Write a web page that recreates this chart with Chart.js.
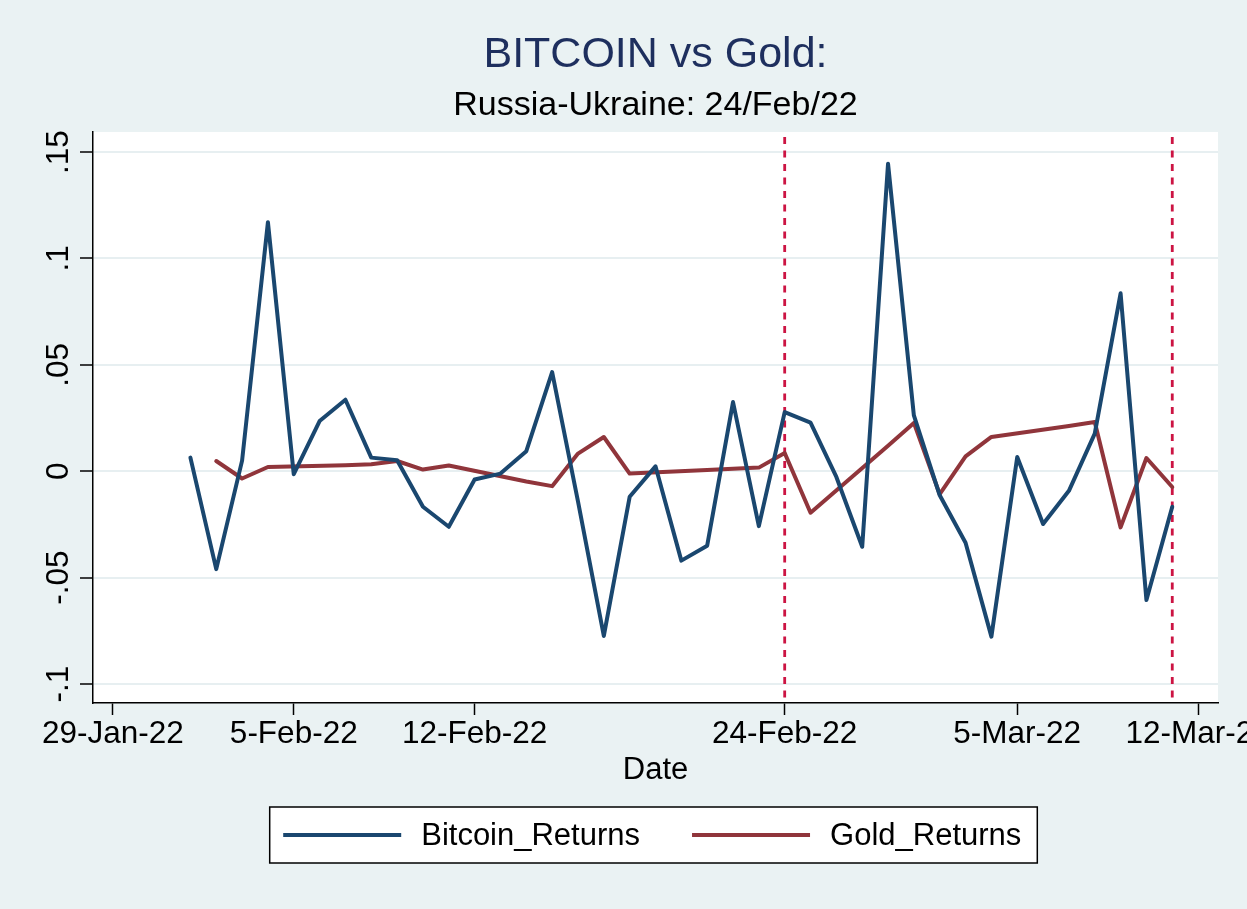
<!DOCTYPE html>
<html>
<head>
<meta charset="utf-8">
<title>BITCOIN vs Gold</title>
<script src="https://cdn.jsdelivr.net/npm/chart.js@4.4.1/dist/chart.umd.min.js"></script>
<style>
  html, body { margin: 0; padding: 0; background: #eaf2f3; }
  #wrap { width: 1247px; height: 909px; overflow: hidden; }
</style>
</head>
<body>
<div id="wrap"><canvas id="chart" width="1247" height="909"></canvas></div>
<script>
(function() {

    // daily observations, 1-Feb-22 .. 11-Mar-22
    let dates = [
        '2022-02-01', '2022-02-02', '2022-02-03', '2022-02-04', '2022-02-05', '2022-02-06', '2022-02-07',
        '2022-02-08', '2022-02-09', '2022-02-10', '2022-02-11', '2022-02-12', '2022-02-13', '2022-02-14',
        '2022-02-15', '2022-02-16', '2022-02-17', '2022-02-18', '2022-02-19', '2022-02-20', '2022-02-21',
        '2022-02-22', '2022-02-23', '2022-02-24', '2022-02-25', '2022-02-26', '2022-02-27', '2022-02-28',
        '2022-03-01', '2022-03-02', '2022-03-03', '2022-03-04', '2022-03-05', '2022-03-06', '2022-03-07',
        '2022-03-08', '2022-03-09', '2022-03-10', '2022-03-11'
    ];

    let bitcoinReturns = [
        0.0064, -0.046, 0.005, 0.117, -0.0014, 0.0236, 0.0336,
        0.0064, 0.0052, -0.0167, -0.0261, -0.0039, -0.0011, 0.0094,
        0.0466, -0.0142, -0.0774, -0.012, 0.0023, -0.042, -0.035,
        0.0325, -0.0258, 0.0278, 0.0228, -0.0027, -0.0355, 0.1445,
        0.0262, -0.0113, -0.0336, -0.0777, 0.0067, -0.0248, -0.0092,
        0.0177, 0.0836, -0.0605, -0.0167
    ];

    // no gold prices at weekends
    let goldReturns = [
        null, 0.0048, -0.0034, 0.002, null, null, 0.0028,
        0.0033, 0.0048, 0.0008, 0.0027, null, null, -0.0048,
        -0.007, 0.0083, 0.0161, -0.0011, null, null, 0.0006,
        0.0012, 0.0017, 0.0086, -0.0195, null, null, 0.012,
        0.0227, -0.0108, 0.007, 0.0161, null, null, 0.0213,
        0.0231, -0.0264, 0.0062, -0.0074
    ];

    let xTickDates = ['2022-01-29', '2022-02-05', '2022-02-12', '2022-02-24', '2022-03-05', '2022-03-12'];
    let xTickLabels = ['29-Jan-22', '5-Feb-22', '12-Feb-22', '24-Feb-22', '5-Mar-22', '12-Mar-22'];

    let yTicks = [-0.1, -0.05, 0, 0.05, 0.1, 0.15];
    let yTickLabels = ['-.1', '-.05', '0', '.05', '.1', '.15'];

    let eventDates = ['2022-02-24', '2022-03-11'];

    let fontFamily = '"Liberation Sans", Arial, Helvetica, sans-serif';
    let bgColor = '#eaf2f3';

    /**
     * Days since the first x tick
     */
    let dayOf = d => (Date.parse(d) - Date.parse(xTickDates[0])) / 86400000;

    let toPoints = values => dates.map((d, i) => ({ x: dayOf(d), y: values[i] }));

    /**
     * Stata-like background, event lines, rotated y labels and boxed legend
     */
    let stataLook = {
        id: 'stataLook',
        beforeDraw: chart => {
            let { ctx, chartArea: a } = chart;
            ctx.save();
            ctx.fillStyle = bgColor;
            ctx.fillRect(0, 0, chart.width, chart.height);
            ctx.fillStyle = '#fff';
            ctx.fillRect(a.left, a.top, a.right - a.left, a.bottom - a.top);
            ctx.restore();
        },
        beforeDatasetsDraw: chart => {
            let { ctx, chartArea: a, scales } = chart;
            ctx.save();
            ctx.strokeStyle = '#cc1443';
            ctx.lineWidth = 2.8;
            ctx.setLineDash([7, 6.5]);
            eventDates.forEach(d => {
                let x = scales.x.getPixelForValue(dayOf(d));
                ctx.beginPath();
                ctx.moveTo(x, a.top + 5);
                ctx.lineTo(x, a.bottom);
                ctx.stroke();
            });
            ctx.restore();
        },
        afterDraw: chart => {
            let { ctx, chartArea: a, scales } = chart;

            // y tick labels, read bottom to top
            ctx.save();
            ctx.fillStyle = '#000';
            ctx.font = '31.5px ' + fontFamily;
            ctx.textAlign = 'center';
            ctx.textBaseline = 'alphabetic';
            yTicks.forEach((v, i) => {
                let y = scales.y.getPixelForValue(v);
                ctx.save();
                ctx.translate(68, y);
                ctx.rotate(-Math.PI / 2);
                ctx.fillText(yTickLabels[i], 0, 0);
                ctx.restore();
            });
            ctx.restore();

            // legend
            let sample = 118, gapText = 20, gapItem = 52, padL = 13.5, padR = 16;
            let top = 807, height = 56;
            ctx.save();
            ctx.font = '31px ' + fontFamily;
            let items = chart.data.datasets.map(ds => ({
                label: ds.label,
                color: ds.borderColor,
                width: ctx.measureText(ds.label).width
            }));
            let contentW = items.reduce((s, it, i) => s + sample + gapText + it.width + (i ? gapItem : 0), 0);
            let boxW = padL + contentW + padR;
            let boxLeft = (a.left + a.right) / 2 - boxW / 2 - 2;
            ctx.fillStyle = '#fff';
            ctx.fillRect(boxLeft, top, boxW, height);
            ctx.strokeStyle = '#000';
            ctx.lineWidth = 1.5;
            ctx.strokeRect(boxLeft, top, boxW, height);

            let cy = top + height / 2;
            let x = boxLeft + padL;
            ctx.textAlign = 'left';
            ctx.textBaseline = 'middle';
            items.forEach(it => {
                ctx.strokeStyle = it.color;
                ctx.lineWidth = 4;
                ctx.beginPath();
                ctx.moveTo(x, cy);
                ctx.lineTo(x + sample, cy);
                ctx.stroke();
                x += sample + gapText;
                ctx.fillStyle = '#000';
                ctx.fillText(it.label, x, cy + 1);
                x += it.width + gapItem;
            });
            ctx.restore();
        }
    };

    let plotChart = () => {
        Chart.defaults.font.family = fontFamily;

        new Chart(document.getElementById('chart'), {
            type: 'line',
            data: {
                datasets: [
                    {
                        label: 'Bitcoin_Returns',
                        data: toPoints(bitcoinReturns),
                        borderColor: '#1a476f',
                        backgroundColor: '#1a476f',
                        borderWidth: 4,
                        pointRadius: 0,
                        tension: 0,
                        borderJoinStyle: 'round',
                        borderCapStyle: 'round'
                    },
                    {
                        label: 'Gold_Returns',
                        data: toPoints(goldReturns),
                        borderColor: '#90353b',
                        backgroundColor: '#90353b',
                        borderWidth: 4,
                        pointRadius: 0,
                        tension: 0,
                        spanGaps: true,
                        borderJoinStyle: 'round',
                        borderCapStyle: 'round'
                    }
                ]
            },
            options: {
                responsive: false,
                animation: false,
                layout: {
                    padding: { top: 0, left: 0, right: 29, bottom: 116 }
                },
                scales: {
                    x: {
                        type: 'linear',
                        min: -0.77,
                        max: 42.77,
                        afterBuildTicks: s => { s.ticks = xTickDates.map(d => ({ value: dayOf(d) })); },
                        afterFit: s => { s.height = 90; s.paddingLeft = 0; s.paddingRight = 0; },
                        ticks: {
                            autoSkip: false,
                            minRotation: 0,
                            maxRotation: 0,
                            padding: 0,
                            color: '#000',
                            font: { size: 31.5 },
                            callback: (v, i) => xTickLabels[i]
                        },
                        grid: {
                            drawOnChartArea: false,
                            drawTicks: true,
                            tickLength: 12,
                            tickColor: '#000',
                            tickWidth: 1.5
                        },
                        border: { color: '#000', width: 1.5 },
                        title: {
                            display: true,
                            text: 'Date',
                            color: '#000',
                            font: { size: 31 },
                            padding: { top: 0, bottom: 4 }
                        }
                    },
                    y: {
                        min: -0.1089,
                        max: 0.1594,
                        afterBuildTicks: s => { s.ticks = yTicks.map(v => ({ value: v })); },
                        afterFit: s => { s.width = 93; s.paddingTop = 0; s.paddingBottom = 0; },
                        ticks: { display: false },
                        grid: {
                            color: '#e7eff1',
                            lineWidth: 2,
                            drawTicks: true,
                            tickLength: 13,
                            tickColor: '#000',
                            tickWidth: 1.5
                        },
                        border: { color: '#000', width: 1.5 }
                    }
                },
                plugins: {
                    legend: { display: false },
                    tooltip: { enabled: false },
                    title: {
                        display: true,
                        text: 'BITCOIN vs Gold:',
                        color: '#1e2f5e',
                        fullSize: false,
                        font: { size: 43, weight: 'normal' },
                        padding: { top: 29.7, bottom: 0 }
                    },
                    subtitle: {
                        display: true,
                        text: 'Russia-Ukraine: 24/Feb/22',
                        color: '#000',
                        fullSize: false,
                        font: { size: 34, weight: 'normal' },
                        padding: { top: 4.3, bottom: 5.6 }
                    }
                }
            },
            plugins: [stataLook]
        });
    };

    window.addEventListener('DOMContentLoaded', plotChart);

})();
</script>
</body>
</html>
